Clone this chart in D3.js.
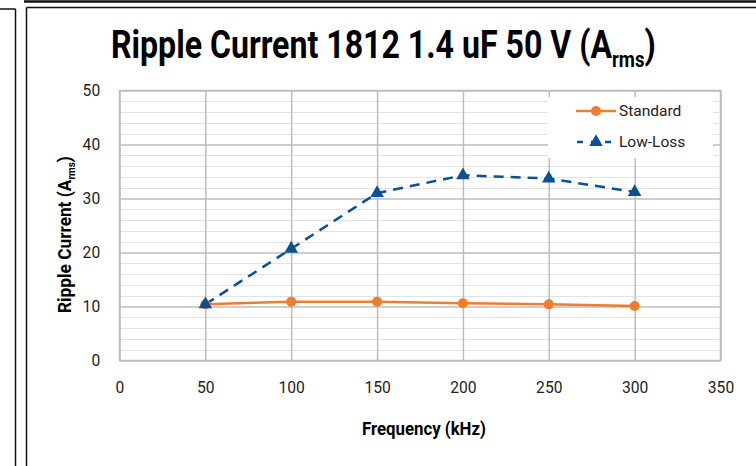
<!DOCTYPE html>
<html><head><meta charset="utf-8">
<script src="https://cdn.jsdelivr.net/npm/d3@7"></script>
<style>html,body{margin:0;padding:0;background:#fff;}svg{display:block;}</style>
</head><body>
<svg id="chart" width="756" height="466"></svg>
<script>
const frequencies = [50, 100, 150, 200, 250, 300];
const standard = [10.4, 10.9, 10.9, 10.6, 10.4, 10.1];
const lowLoss = [10.4, 20.7, 31.0, 34.3, 33.7, 31.2];
const xTicks = [0, 50, 100, 150, 200, 250, 300, 350];
const yTicks = [0, 10, 20, 30, 40, 50];
const seriesNames = ["Standard", "Low-Loss"];

const svg = d3.select("#chart");
const W = 756, H = 466;
const m = {left: 119.5, right: 720.5, top: 90.5, bottom: 360.5};
const x = d3.scaleLinear().domain([0, 350]).range([m.left, m.right]);
const y = d3.scaleLinear().domain([0, 50]).range([m.bottom, m.top]);
const orange = "#ED7D31", blue = "#0B4F96";
const font = "Roboto, 'Noto Sans', sans-serif";

// page frame decorations
const fr = svg.append("g").attr("fill", "none").attr("stroke", "#111");
fr.append("line").attr("x1", 24).attr("x2", W).attr("y1", 1.5).attr("y2", 1.5).attr("stroke-width", 2.5);
fr.append("line").attr("x1", 26.5).attr("x2", W).attr("y1", 7.5).attr("y2", 7.5).attr("stroke-width", 1.5);
fr.append("line").attr("x1", 26.5).attr("x2", 26.5).attr("y1", 7.5).attr("y2", H).attr("stroke-width", 1.5);
fr.append("line").attr("x1", 0).attr("x2", 15.5).attr("y1", 9).attr("y2", 9).attr("stroke-width", 1.5);
fr.append("line").attr("x1", 15.5).attr("x2", 15.5).attr("y1", 9).attr("y2", H).attr("stroke-width", 1.5);

// minor gridlines
const minor = d3.range(2, 50, 2).filter(v => v % 10 !== 0);
svg.append("g").selectAll("line").data(minor).join("line")
  .attr("x1", m.left).attr("x2", m.right)
  .attr("y1", d => Math.round(y(d)) + 0.5).attr("y2", d => Math.round(y(d)) + 0.5)
  .attr("stroke", "#e3e3e3").attr("stroke-width", 1.2);

// major gridlines (y) via axis
const yAxisG = svg.append("g").attr("transform", `translate(${m.left},0)`)
  .call(d3.axisLeft(y).tickValues(yTicks).tickSize(-(m.right - m.left)).tickPadding(21).tickFormat(d3.format("d")));
yAxisG.select(".domain").remove();
yAxisG.selectAll(".tick line").attr("stroke", "#bdbdbd").attr("stroke-width", 1.5);
yAxisG.selectAll(".tick text").attr("font-family", font).attr("font-size", 17).attr("fill", "#222")
  .attr("transform", "scale(0.92,1)");

const xAxisG = svg.append("g").attr("transform", `translate(0,${m.bottom})`)
  .call(d3.axisBottom(x).tickValues(xTicks).tickSize(-(m.bottom - m.top)).tickPadding(20).tickFormat(d3.format("d")));
xAxisG.select(".domain").remove();
xAxisG.selectAll(".tick line").attr("stroke", "#bdbdbd").attr("stroke-width", 1.5);
xAxisG.selectAll(".tick text").attr("font-family", font).attr("font-size", 17).attr("fill", "#222")
  .attr("transform", "scale(0.92,1)");

// plot frame
svg.append("rect").attr("x", m.left).attr("y", m.top).attr("width", m.right - m.left).attr("height", m.bottom - m.top)
  .attr("fill", "none").attr("stroke", "#bdbdbd").attr("stroke-width", 1.5);

// legend background
svg.append("rect").attr("x", 548).attr("y", 97).attr("width", 165).attr("height", 61).attr("fill", "#fff");

// series
const line = d3.line().x(d => x(d[0])).y(d => y(d[1]));
const stdData = frequencies.map((f, i) => [f, standard[i]]);
const llData = frequencies.map((f, i) => [f, lowLoss[i]]);

svg.append("path").datum(llData).attr("d", line).attr("fill", "none")
  .attr("stroke", blue).attr("stroke-width", 2.5).attr("stroke-dasharray", "10,7");
svg.append("path").datum(stdData).attr("d", line).attr("fill", "none")
  .attr("stroke", orange).attr("stroke-width", 2.5);
svg.append("g").selectAll("circle").data(stdData).join("circle")
  .attr("cx", d => x(d[0])).attr("cy", d => y(d[1])).attr("r", 5).attr("fill", orange);
const tri = d3.symbol().type(d3.symbolTriangle).size(80);
svg.append("g").selectAll("path").data(llData).join("path")
  .attr("d", tri).attr("transform", d => `translate(${x(d[0])},${y(d[1])})`).attr("fill", blue);

// legend
const lg = svg.append("g");
lg.append("line").attr("x1", 576).attr("x2", 616).attr("y1", 111).attr("y2", 111).attr("stroke", orange).attr("stroke-width", 2.5);
lg.append("circle").attr("cx", 596).attr("cy", 111).attr("r", 5).attr("fill", orange);
lg.append("line").attr("x1", 576).attr("x2", 616).attr("y1", 142).attr("y2", 142).attr("stroke", blue).attr("stroke-width", 2.5).attr("stroke-dasharray", "6,8").attr("stroke-dashoffset", -1);
lg.append("path").attr("d", tri).attr("transform", "translate(596,142)").attr("fill", blue);
lg.selectAll("text").data(seriesNames).join("text")
  .attr("x", 619).attr("y", (d, i) => 111 + i * 31).attr("dy", "0.35em")
  .attr("font-family", font).attr("font-size", 15.5).attr("fill", "#222").text(d => d);

// helper to squeeze text horizontally to a target width
function fit(sel, x0, targetW) {
  const bb = sel.node().getBBox();
  const s = targetW / bb.width;
  sel.attr("transform", `translate(${x0},0) scale(${s},1) translate(${-bb.x},0)`);
}

// title
const title = svg.append("text").attr("y", 58).attr("font-family", font).attr("font-weight", "bold")
  .attr("font-size", 38).attr("fill", "#000");
title.append("tspan").text("Ripple Current 1812 1.4 uF 50 V (A");
title.append("tspan").attr("font-size", 22).attr("dy", 9).text("rms");
title.append("tspan").attr("dy", -9).text(")");
fit(title, 111, 545);

// x axis title
const xt = svg.append("text").attr("y", 435).attr("font-family", font).attr("font-weight", "bold")
  .attr("font-size", 18.5).attr("fill", "#000").text("Frequency (kHz)");
fit(xt, 362, 124);

// y axis title
const ytG = svg.append("g").attr("transform", "translate(71,313) rotate(-90)");
const yt = ytG.append("text").attr("y", 0).attr("font-family", font).attr("font-weight", "bold")
  .attr("font-size", 19).attr("fill", "#000");
yt.append("tspan").text("Ripple Current (A");
yt.append("tspan").attr("font-size", 11).attr("dy", 4).text("rms");
yt.append("tspan").attr("dy", -4).text(")");
fit(yt, 0, 157);
</script>
</body></html>
